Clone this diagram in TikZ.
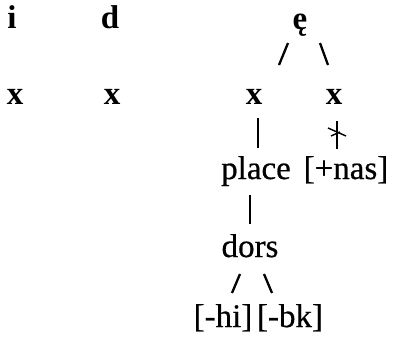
\documentclass[tikz,border=0pt]{standalone}
\usepackage{fontspec}
\setmainfont{Liberation Serif}
\newfontfamily\heavyserif{Liberation Serif}[FakeBold=0.6]
\begin{document}
\begin{tikzpicture}[x=1pt,y=-1pt,
  seg/.style={inner sep=0pt,anchor=base,font=\fontsize{33}{38}\selectfont\bfseries},
  feat/.style={inner sep=0pt,anchor=base,font=\fontsize{33}{38}\selectfont\heavyserif},
  link/.style={line width=2.3pt},
  cut/.style={line width=1.4pt}]
\useasboundingbox (0,0) rectangle (396,341);
% top row
\node[seg] (i) at (12,28) {i};
\node[seg] (d) at (110,28) {d};
\node[seg] (e) at (300,29) {ę};
% x row
\node[seg] (x1) at (15,104) {x};
\node[seg] (x2) at (112,104) {x};
\node[seg] (x3) at (254,104) {x};
\node[seg] (x4) at (334,104) {x};
% features
\node[feat] (place) at (256,179) {place};
\node[feat] (nas) at (346,179) {[+nas]};
\node[feat] (dors) at (250,257) {dors};
\node[feat] (hi) at (223,327) {[-hi]};
\node[feat] (bk) at (290,327) {[-bk]};
% connector end points
\coordinate (e1) at (288,43);  \coordinate (e1b) at (279,65);
\coordinate (e2) at (320,43);  \coordinate (e2b) at (328,65);
\coordinate (p1) at (258,118); \coordinate (p1b) at (258,148);
\coordinate (n1) at (337,121); \coordinate (n1b) at (337,149);
\coordinate (c1) at (328,128); \coordinate (c1b) at (346,136);
\coordinate (c2) at (331,136); \coordinate (c2b) at (340,132);
\coordinate (d1) at (250,195); \coordinate (d1b) at (250,224);
\coordinate (h1) at (240,274); \coordinate (h1b) at (232,293);
\coordinate (k1) at (264,274); \coordinate (k1b) at (272,293);
\draw[link] (e1) -- (e1b);
\draw[link] (e2) -- (e2b);
\draw[link] (p1) -- (p1b);
\draw[link] (n1) -- (n1b);
\draw[cut] (c1) -- (c1b);
\draw[cut] (c2) -- (c2b);
\draw[link] (d1) -- (d1b);
\draw[link] (h1) -- (h1b);
\draw[link] (k1) -- (k1b);
\end{tikzpicture}
\end{document}
